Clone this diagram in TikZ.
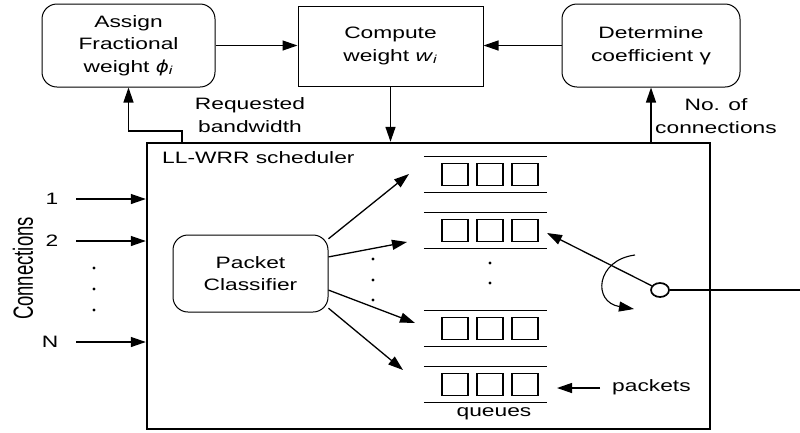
\documentclass[tikz,border=0pt]{standalone}
\usepackage{fontspec}
\setmainfont{Liberation Sans}[FakeStretch=1.38]
\newfontfamily\plainfont{Liberation Sans}
\newfontfamily\dvfont{DejaVu Sans}[FakeStretch=1.2]
\usetikzlibrary{arrows.meta,shapes.geometric}
\begin{document}
\begin{tikzpicture}[x=1pt,y=-1pt,
  every node/.style={font=\fontsize{16.5}{22.5}\selectfont, inner sep=0pt},
  rbox/.style={draw, line width=1pt, rounded corners=15pt, align=center},
  sbox/.style={draw, line width=1pt, align=center},
  arr/.style={line width=1.3pt, -{Triangle[length=15pt,width=10pt]}},
  ln/.style={line width=1.1pt},
  pkt/.style={draw, line width=1.1pt, minimum width=26pt, minimum height=22pt},
  dotn/.style={circle, fill, minimum size=3.2pt}
]
\useasboundingbox (0,0) rectangle (800,432);

% top boxes
\node[rbox, minimum width=173pt, minimum height=83pt] (assign) at (128.5,45.5)
  {Assign\\Fractional\\weight {\dvfont\itshape ϕ}\textsubscript{\textit{i}}};
\node[sbox, minimum width=185pt, minimum height=80pt] (compute) at (390.5,46)
  {Compute\\weight \textit{w}\textsubscript{\textit{i}}};
\node[rbox, minimum width=178pt, minimum height=83pt] (determine) at (651,45.5)
  {Determine\\coefficient γ};

\draw[arr] (assign.east) -- (assign.east -| compute.west);
\draw[arr] (determine.west) -- (determine.west -| compute.east);

% scheduler
\node[draw, line width=2.4pt, minimum width=563pt, minimum height=286pt] (sched) at (428.5,286) {};
\node[anchor=west] (llwrr) at (162,158) {LL-WRR scheduler};

\coordinate (rb) at (182,143);
\draw[arr] (rb) -- (182,131) -| (assign.south);
\node[align=center] (rblabel) at (250,115) {Requested\\bandwidth};
\draw[arr] (compute.south) -- (compute.south |- sched.north);
\draw[arr] (determine.south |- sched.north) -- (determine.south);
\node[align=center] (nclabel) at (716,116) {No. of\\connections};

% inputs
\node (l1) at (52,199) {1};
\node (l2) at (52,241) {2};
\node (lN) at (50,342) {N};
\coordinate (i1) at (76,199);
\coordinate (i2) at (76,241);
\coordinate (iN) at (76,342);
\draw[arr] (i1) -- (i1 -| sched.west);
\draw[arr] (i2) -- (i2 -| sched.west);
\draw[arr] (iN) -- (iN -| sched.west);
\node[dotn] (ld1) at (94,268) {};
\node[dotn] (ld2) at (94,289) {};
\node[dotn] (ld3) at (94,310) {};
\node[rotate=90, font=\plainfont\fontsize{18.5}{22}\selectfont] (conn) at (23,268.5) {\scalebox{1}[1.5]{Connections}};

% classifier
\node[rbox, minimum width=155pt, minimum height=77pt] (pc) at (250.5,273.5) {Packet\\Classifier};
\coordinate (e1) at (409,174);
\coordinate (e2) at (407,242);
\coordinate (e3) at (415,323);
\coordinate (e4) at (403,370);
\draw[arr] (pc.24) -- (e1);
\draw[arr] (pc.12) -- (e2);
\draw[arr] (pc.-12) -- (e3);
\draw[arr] (pc.-24) -- (e4);
\node[dotn] (cd1) at (373,259) {};
\node[dotn] (cd2) at (373,280) {};
\node[dotn] (cd3) at (373,300) {};

% queues
\foreach \yy/\i in {174.5/1,230.5/2,328.5/3,384.5/4}{
  \node[minimum width=123pt, minimum height=35pt] (q\i) at (485.5,\yy) {};
  \draw[ln] (q\i.north west) -- (q\i.north east) (q\i.south west) -- (q\i.south east);
  \node[pkt] (q\i a) at (455,\yy) {};
  \node[pkt] (q\i b) at (490,\yy) {};
  \node[pkt] (q\i c) at (525,\yy) {};
}
\node[dotn] (qd1) at (490,263) {};
\node[dotn] (qd2) at (490,283) {};
\node (queues) at (494,414) {queues};
\node[anchor=west] (packets) at (612,387) {packets};
\coordinate (pk) at (600,388);
\coordinate (pkend) at (557,388);
\draw[arr] (pk) -- (pkend);

% server
\coordinate (out) at (800,290);
\node[ellipse, draw, line width=1.7pt, fill=white, minimum width=18pt, minimum height=14pt] (srv) at (660,290) {};
\draw[line width=1.7pt] (srv.east) -- (out);
\coordinate (qt) at (547,233);
\draw[arr] (srv.153) -- (qt);
\draw[line width=1.1pt, -{Triangle[length=15pt,width=10pt]}] (635,255) .. controls (596,260) and (592,302) .. (634,309);
\end{tikzpicture}
\end{document}
